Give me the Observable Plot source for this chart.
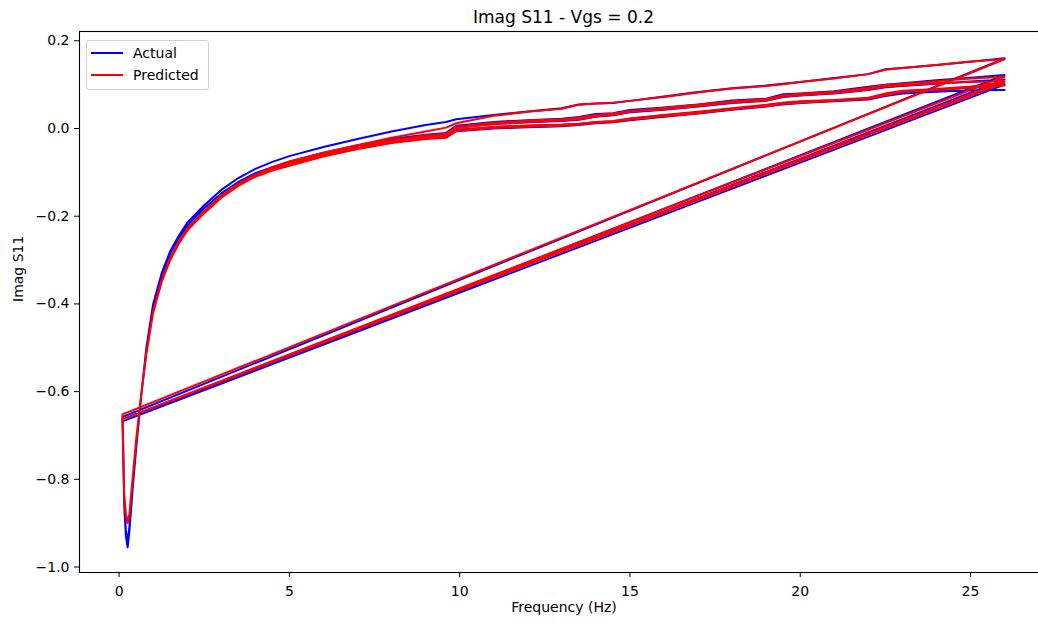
<!DOCTYPE html>
<html>
<head>
<meta charset="utf-8">
<script src="https://cdn.jsdelivr.net/npm/d3@7"></script>
<script src="https://cdn.jsdelivr.net/npm/@observablehq/plot@0.6"></script>
<style>
  html, body { margin: 0; padding: 0; background: #fff; overflow: hidden; }
  #wrap { position: relative; width: 1038px; height: 624px; overflow: hidden; font-family: "DejaVu Sans", sans-serif; color: #000; }
  #title { position: relative; height: 24px; margin-left: 79px; width: 969px; text-align: center; font-size: 17px; line-height: 34px; overflow: visible; white-space: nowrap; }
  #chart { width: 1050px; }
  #chart svg { max-width: none !important; }
  #legend { position: absolute; left: 86px; top: 40px; width: 121px; height: 48px; border: 1px solid #cfcfcf; border-radius: 3px; background: rgba(255,255,255,0.85); font-size: 14px; }
  .sw { position: absolute; left: 4px; width: 32px; height: 2px; }
  .lb { position: absolute; left: 46px; line-height: 16px; white-space: nowrap; }
</style>
</head>
<body>
<div id="wrap">
  <div id="title"></div>
  <div id="chart"></div>
  <div id="legend"></div>
</div>
<script>
// ---- text ----
const titleText = "Imag S11 - Vgs = 0.2";
const xLabel = "Frequency (Hz)";
const yLabel = "Imag S11";
const seriesNames = ["Actual", "Predicted"];
const seriesColors = ["#0000ff", "#ff0000"];
const xTicks = [0, 5, 10, 15, 20, 25];
const yTicks = [-1.0, -0.8, -0.6, -0.4, -0.2, 0.0, 0.2];

// ---- frequency grid of each sweep ----
const freq = [0.1, 0.15, 0.2, 0.25, 0.3, 0.4, 0.5, 0.65, 0.8, 1.0,
  1.25, 1.5, 1.75, 2.0, 2.5, 3.0, 3.5, 4.0, 4.5, 5.0,
  6.0, 7.0, 8.0, 9.0, 9.6, 9.9, 11.0, 12.0, 13.0, 13.5,
  14.0, 14.5, 15.0, 16.0, 17.0, 18.0, 19.0, 19.5, 20.0, 21.0,
  22.0, 22.5, 23.0, 24.0, 25.0, 26.0];

// ---- sweeps (actual / predicted) ----
const sweep1Actual = [-0.668, -0.85, -0.92, -0.94, -0.91, -0.815, -0.725, -0.61, -0.505, -0.405,
  -0.335, -0.285, -0.25, -0.222, -0.182, -0.148, -0.122, -0.102, -0.088, -0.076,
  -0.055, -0.038, -0.024, -0.014, -0.010, 0.006, 0.015, 0.019, 0.022, 0.026,
  0.033, 0.035, 0.042, 0.048, 0.055, 0.064, 0.068, 0.078, 0.080, 0.085,
  0.095, 0.100, 0.103, 0.110, 0.116, 0.122];
const sweep1Pred = [-0.663, -0.835, -0.88, -0.895, -0.88, -0.795, -0.71, -0.605, -0.515, -0.42,
  -0.35, -0.30, -0.263, -0.233, -0.193, -0.158, -0.131, -0.110, -0.093, -0.080,
  -0.058, -0.041, -0.027, -0.016, -0.012, 0.004, 0.013, 0.018, 0.021, 0.025,
  0.031, 0.034, 0.040, 0.047, 0.054, 0.062, 0.067, 0.076, 0.079, 0.084,
  0.093, 0.099, 0.102, 0.108, 0.114, 0.118];

const sweep2Actual = [-0.668, -0.85, -0.92, -0.945, -0.91, -0.815, -0.725, -0.61, -0.505, -0.405,
  -0.335, -0.285, -0.25, -0.222, -0.182, -0.148, -0.122, -0.102, -0.089, -0.078,
  -0.058, -0.041, -0.027, -0.018, -0.014, 0.002, 0.010, 0.014, 0.017, 0.020,
  0.027, 0.030, 0.037, 0.043, 0.050, 0.058, 0.063, 0.072, 0.075, 0.080,
  0.088, 0.094, 0.097, 0.102, 0.107, 0.112];
const sweep2Pred = [-0.663, -0.835, -0.88, -0.895, -0.88, -0.795, -0.71, -0.605, -0.515, -0.42,
  -0.35, -0.30, -0.263, -0.233, -0.193, -0.158, -0.131, -0.110, -0.094, -0.081,
  -0.060, -0.043, -0.029, -0.019, -0.015, 0.001, 0.010, 0.015, 0.018, 0.021,
  0.028, 0.031, 0.038, 0.044, 0.051, 0.059, 0.064, 0.073, 0.076, 0.081,
  0.089, 0.095, 0.098, 0.103, 0.106, 0.108];

const sweep3Actual = [-0.668, -0.86, -0.93, -0.955, -0.92, -0.82, -0.73, -0.61, -0.50, -0.40,
  -0.33, -0.28, -0.245, -0.215, -0.175, -0.140, -0.113, -0.092, -0.076, -0.063,
  -0.042, -0.024, -0.007, 0.008, 0.015, 0.021, 0.031, 0.039, 0.046, 0.055,
  0.057, 0.058, 0.063, 0.073, 0.083, 0.092, 0.098, 0.102, 0.106, 0.115,
  0.124, 0.135, 0.138, 0.145, 0.152, 0.160];
const sweep3Pred = [-0.663, -0.84, -0.885, -0.90, -0.885, -0.80, -0.715, -0.605, -0.51, -0.415,
  -0.345, -0.295, -0.258, -0.228, -0.188, -0.153, -0.126, -0.105, -0.088, -0.075,
  -0.055, -0.038, -0.021, -0.007, 0.002, 0.012, 0.029, 0.038, 0.045, 0.054,
  0.057, 0.059, 0.063, 0.072, 0.082, 0.091, 0.097, 0.101, 0.106, 0.114,
  0.124, 0.134, 0.138, 0.145, 0.153, 0.158];

const sweep4Actual = [-0.658, -0.85, -0.92, -0.94, -0.91, -0.815, -0.725, -0.61, -0.505, -0.405,
  -0.335, -0.285, -0.25, -0.222, -0.182, -0.148, -0.122, -0.102, -0.090, -0.080,
  -0.060, -0.044, -0.030, -0.021, -0.018, -0.003, 0.003, 0.006, 0.008, 0.010,
  0.014, 0.016, 0.022, 0.030, 0.037, 0.045, 0.053, 0.058, 0.061, 0.064,
  0.068, 0.078, 0.085, 0.088, 0.093, 0.100];
const sweep4Pred = [-0.652, -0.835, -0.88, -0.895, -0.88, -0.795, -0.71, -0.605, -0.515, -0.42,
  -0.35, -0.30, -0.263, -0.233, -0.193, -0.158, -0.131, -0.110, -0.095, -0.083,
  -0.062, -0.045, -0.031, -0.022, -0.019, -0.004, 0.004, 0.007, 0.009, 0.011,
  0.015, 0.017, 0.023, 0.031, 0.038, 0.046, 0.054, 0.059, 0.062, 0.065,
  0.070, 0.080, 0.086, 0.090, 0.096, 0.104];

const sweep5Actual = [-0.668, -0.85, -0.92, -0.94, -0.91, -0.815, -0.725, -0.61, -0.505, -0.405,
  -0.335, -0.285, -0.25, -0.222, -0.182, -0.148, -0.122, -0.102, -0.091, -0.082,
  -0.062, -0.046, -0.032, -0.023, -0.020, -0.006, 0.000, 0.003, 0.005, 0.008,
  0.012, 0.014, 0.019, 0.027, 0.034, 0.043, 0.050, 0.055, 0.058, 0.062,
  0.066, 0.074, 0.080, 0.084, 0.087, 0.088];
const sweep5Pred = [-0.663, -0.835, -0.88, -0.895, -0.88, -0.795, -0.71, -0.605, -0.515, -0.42,
  -0.35, -0.30, -0.263, -0.233, -0.193, -0.158, -0.131, -0.110, -0.096, -0.085,
  -0.064, -0.047, -0.033, -0.024, -0.021, -0.005, 0.001, 0.004, 0.006, 0.009,
  0.013, 0.015, 0.020, 0.028, 0.035, 0.044, 0.051, 0.056, 0.059, 0.063,
  0.068, 0.076, 0.083, 0.088, 0.093, 0.098];

const actualSweeps = [sweep1Actual, sweep2Actual, sweep3Actual, sweep4Actual, sweep5Actual];
const predSweeps = [sweep1Pred, sweep2Pred, sweep3Pred, sweep4Pred, sweep5Pred];

function concatRows(sweeps) {
  const rows = [];
  sweeps.forEach(s => s.forEach((v, i) => rows.push({f: freq[i], v})));
  return rows;
}
const actualRows = concatRows(actualSweeps);
const predRows = concatRows(predSweeps);

document.getElementById("title").textContent = titleText;

const chart = Plot.plot({
  width: 1050,
  height: 600,
  marginLeft: 79,
  marginRight: 2,
  marginTop: 7,
  marginBottom: 52,
  style: {fontFamily: '"DejaVu Sans", sans-serif', fontSize: "14px", color: "#000", background: "transparent", overflow: "visible", maxWidth: "none"},
  x: {domain: [-1.163, 27.29]},
  y: {domain: [-1.0125, 0.2212]},
  marks: [
    Plot.line(actualRows, {x: "f", y: "v", stroke: seriesColors[0], strokeWidth: 2}),
    Plot.line(predRows, {x: "f", y: "v", stroke: seriesColors[1], strokeWidth: 2}),
    Plot.frame({stroke: "#000", strokeWidth: 1.1}),
    Plot.axisX({ticks: xTicks, tickSize: 5, tickPadding: 9, tickFormat: d => String(d), label: null, fontSize: 14}),
    Plot.axisY({ticks: yTicks, tickSize: 5, tickPadding: 5, tickFormat: d3.format(".1f"), label: null, fontSize: 14}),
    Plot.text([xLabel], {frameAnchor: "bottom", dy: 39, text: d => d, fontSize: 14}),
    Plot.text([yLabel], {frameAnchor: "left", dx: -61, rotate: -90, text: d => d, fontSize: 14})
  ]
});
document.getElementById("chart").appendChild(chart);

// legend
const legend = document.getElementById("legend");
seriesNames.forEach((name, i) => {
  const sw = document.createElement("div");
  sw.className = "sw";
  sw.style.top = (11 + i * 22) + "px";
  sw.style.background = seriesColors[i];
  legend.appendChild(sw);
  const lb = document.createElement("div");
  lb.className = "lb";
  lb.style.top = (4 + i * 22) + "px";
  lb.textContent = name;
  legend.appendChild(lb);
});
</script>
</body>
</html>
